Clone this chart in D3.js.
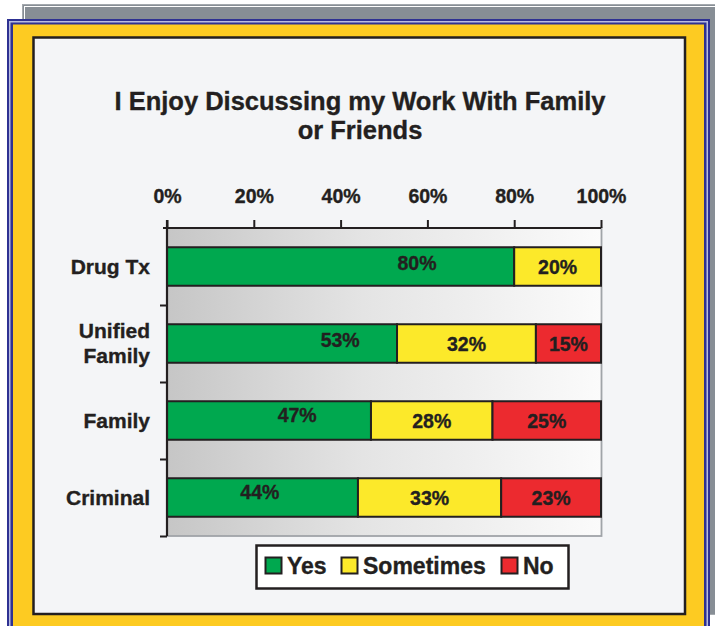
<!DOCTYPE html>
<html>
<head>
<meta charset="utf-8">
<script src="https://cdn.jsdelivr.net/npm/d3@7"></script>
<style>
  html, body { margin: 0; padding: 0; background: #ffffff; }
  svg { display: block; }
  text { font-family: "Liberation Sans", Arial, Helvetica, sans-serif; font-weight: bold; fill: #231f20; stroke: #231f20; stroke-width: 0.35px; }
</style>
</head>
<body>
<script>
// ---- data ----
const titleLines = ["I Enjoy Discussing my Work With Family", "or Friends"];
const categories = ["Drug Tx", "Unified\nFamily", "Family", "Criminal"];
const seriesNames = ["Yes", "Sometimes", "No"];
const yesValues = [80, 53, 47, 44];
const sometimesValues = [20, 32, 28, 33];
const noValues = [0, 15, 25, 23];
const xTicks = [0, 20, 40, 60, 80, 100];
// where the "Yes" label sits along the axis (in percent units, as printed)
const yesLabelAt = [57.6, 39.9, 30, 21.4];

// ---- layout / style ----
const W = 715, H = 626;
const colors = { "Yes": "#00a84f", "Sometimes": "#fce92a", "No": "#ec2a2f" };
const yesLabelLift = [4, 3.5, 6, 5.5];
const plot = { left: 167, right: 601, top: 228, bottom: 536 };

const svg = d3.select("body").append("svg").attr("width", W).attr("height", H);
const defs = svg.append("defs");
const grad = defs.append("linearGradient").attr("id", "plotGrad")
  .attr("x1", "0%").attr("x2", "100%").attr("y1", "0%").attr("y2", "0%");
grad.append("stop").attr("offset", "0%").attr("stop-color", "#c6c6c6");
grad.append("stop").attr("offset", "45%").attr("stop-color", "#e4e4e4");
grad.append("stop").attr("offset", "100%").attr("stop-color", "#fbfbfb");

// ---- frame ----
svg.append("rect").attr("x", 22.5).attr("y", 4.5).attr("width", 720).attr("height", 610)
  .attr("fill", "#878e95").attr("stroke", "#a4a9ae").attr("stroke-width", 1);
svg.append("rect").attr("x", 24.5).attr("y", 6.5).attr("width", 720).attr("height", 610)
  .attr("fill", "none").attr("stroke", "#ffffff").attr("stroke-width", 1);

svg.append("rect").attr("x", 7).attr("y", 19).attr("width", 703).attr("height", 640).attr("fill", "#2e3192");
svg.append("rect").attr("x", 9).attr("y", 21).attr("width", 699).attr("height", 640).attr("fill", "#b9bde0");
svg.append("rect").attr("x", 10.5).attr("y", 22.5).attr("width", 696).attr("height", 640).attr("fill", "#2e3192");
svg.append("rect").attr("x", 13).attr("y", 24.5).attr("width", 691).attr("height", 640).attr("fill", "#fdcb22");

svg.append("rect").attr("x", 33.5).attr("y", 37.5).attr("width", 651.5).attr("height", 576.5)
  .attr("fill", "#f4f5f7").attr("stroke", "#231f20").attr("stroke-width", 2.5);

// ---- title ----
svg.append("text").attr("x", 360).attr("y", 110).attr("text-anchor", "middle")
  .style("font-size", "25.5px")
  .selectAll("tspan").data(titleLines).join("tspan")
  .attr("x", 360).attr("dy", (d, i) => i === 0 ? 0 : 29).text(d => d);

// ---- scales ----
const x = d3.scaleLinear().domain([0, 100]).range([plot.left, plot.right]);
const y = d3.scaleBand().domain(categories).range([plot.top, plot.bottom]).paddingInner(0.5).paddingOuter(0.25);
const yEdge = d3.scaleLinear().domain([0, categories.length]).range([plot.top, plot.bottom]);

// plot background
svg.append("rect").attr("x", plot.left).attr("y", plot.top)
  .attr("width", plot.right - plot.left + 0.5).attr("height", plot.bottom - plot.top)
  .attr("fill", "url(#plotGrad)").attr("stroke", "#a0a4a8").attr("stroke-width", 1.8);

// ---- bars ----
const rows = categories.map((c, i) => ({ cat: c, vals: [yesValues[i], sometimesValues[i], noValues[i]] }));
const segs = [];
rows.forEach((r, i) => {
  let acc = 0;
  r.vals.forEach((v, k) => {
    if (v > 0) segs.push({ cat: r.cat, row: i, series: seriesNames[k], k, x0: acc, x1: acc + v, v });
    acc += v;
  });
});

svg.append("g").selectAll("rect").data(segs).join("rect")
  .attr("x", d => x(d.x0)).attr("y", d => y(d.cat))
  .attr("width", d => x(d.x1) - x(d.x0)).attr("height", y.bandwidth())
  .attr("fill", d => colors[d.series]).attr("stroke", "#231f20").attr("stroke-width", 2);

svg.append("g").selectAll("text").data(segs).join("text")
  .attr("x", d => d.k === 0 ? x(yesLabelAt[d.row]) : x((d.x0 + d.x1) / 2))
  .attr("y", d => y(d.cat) + y.bandwidth() / 2 + 7 - (d.k === 0 ? yesLabelLift[d.row] : 0))
  .attr("text-anchor", "middle").style("font-size", "19.5px")
  .text(d => d.v + "%");

// ---- axes ----
const xAxis = d3.axisTop(x).tickValues(xTicks).tickFormat(d => d + "%").tickSize(8).tickSizeOuter(0);
const gx = svg.append("g").attr("transform", `translate(0,${plot.top})`).call(xAxis);
gx.select(".domain").attr("stroke", "#231f20").attr("stroke-width", 2).attr("d", `M${plot.left - 4},0H${plot.right}`);
gx.selectAll(".tick line").attr("stroke", "#231f20").attr("stroke-width", 2);
gx.selectAll(".tick text").attr("y", -25).style("font-size", "19.5px").attr("fill", "#231f20")
  .style("font-family", '"Liberation Sans", Arial, sans-serif').style("font-weight", "bold");

const yAxis = d3.axisLeft(yEdge).tickValues(d3.range(1, categories.length + 1)).tickFormat("").tickSize(7).tickSizeOuter(0);
const gy = svg.append("g").attr("transform", `translate(${plot.left},0)`).call(yAxis);
gy.select(".domain").attr("stroke", "#231f20").attr("stroke-width", 2.2).attr("d", `M0,${plot.top - 8}V${plot.bottom}`);
gy.selectAll(".tick line").attr("stroke", "#231f20").attr("stroke-width", 2);

// category labels
const catG = svg.append("g");
categories.forEach(c => {
  const lines = c.split("\n");
  const cy = y(c) + y.bandwidth() / 2;
  const lh = 25;
  const t = catG.append("text").attr("text-anchor", "end").style("font-size", "21px");
  lines.forEach((ln, i) => {
    t.append("tspan").attr("x", 150)
      .attr("y", cy + 7 - (lines.length - 1) * lh / 2 + i * lh).text(ln);
  });
});

// ---- legend ----
const lg = svg.append("g");
lg.append("rect").attr("x", 256.5).attr("y", 545.5).attr("width", 312).attr("height", 43)
  .attr("fill", "#ffffff").attr("stroke", "#231f20").attr("stroke-width", 2.5);
const legendX = [265, 341, 501];
seriesNames.forEach((s, i) => {
  lg.append("rect").attr("x", legendX[i] + 0.5).attr("y", 557.5).attr("width", 16).attr("height", 16)
    .attr("fill", colors[s]).attr("stroke", "#231f20").attr("stroke-width", 2);
  lg.append("text").attr("x", legendX[i] + 22).attr("y", 574).style("font-size", "23px").text(s);
});
</script>
</body>
</html>
